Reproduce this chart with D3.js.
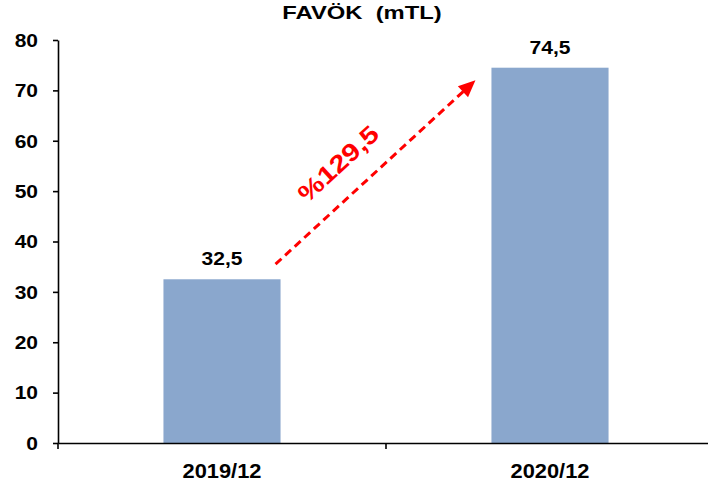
<!DOCTYPE html>
<html><head><meta charset="utf-8">
<script src="https://cdn.jsdelivr.net/npm/d3@7"></script>
<style>body{margin:0;background:#fff}svg{display:block}text{font-family:"Liberation Sans",Arial,sans-serif;font-weight:bold}</style>
</head><body>
<svg id="c" width="708" height="486"></svg>
<script>
const categories = ["2019/12", "2020/12"];
const values = [32.5, 74.5];
const valueLabels = ["32,5", "74,5"];
const yTicks = [0, 10, 20, 30, 40, 50, 60, 70, 80];
const title = "FAVÖK  (mTL)";
const growthLabel = "%129,5";

const svg = d3.select("#c");
const x = d3.scaleBand().domain(categories).range([58, 714]).paddingInner(0.643).paddingOuter(0.3215);
const y = d3.scaleLinear().domain([0, 80]).range([443, 40]);
const SX = 1.2;

svg.append("text").attr("transform", `translate(362,19) scale(1.3,1)`).attr("text-anchor", "middle")
  .style("white-space", "pre").attr("font-size", 18.3).text(title);

svg.selectAll("rect.bar").data(values).join("rect").attr("class", "bar")
  .attr("x", (d, i) => x(categories[i])).attr("width", x.bandwidth())
  .attr("y", d => y(d)).attr("height", d => y(0) - y(d)).attr("fill", "#8AA7CD");

svg.selectAll("text.val").data(values).join("text").attr("class", "val")
  .attr("transform", (d, i) => `translate(${x(categories[i]) + x.bandwidth() / 2},${y(d) - 14}) scale(1.17,1)`)
  .attr("text-anchor", "middle").attr("font-size", 18).text((d, i) => valueLabels[i]);

// y axis
const ya = svg.append("g").attr("transform", "translate(58,0)")
  .call(d3.axisLeft(y).tickValues(yTicks).tickSize(5).tickSizeOuter(0));
ya.select(".domain").attr("stroke", "#000").attr("stroke-width", 1.6);
ya.selectAll(".tick line").attr("stroke", "#000").attr("stroke-width", 1.6);
ya.selectAll(".tick text").attr("x", 0).attr("dy", "0.36em").attr("transform", `translate(-20,0) scale(${SX},1)`)
  .attr("font-size", 17.5).attr("font-family", "Liberation Sans, Arial").attr("font-weight", "bold").attr("fill", "#000");

// x axis
const xa = svg.append("g").attr("transform", "translate(0,443)")
  .call(d3.axisBottom(x).tickSize(0));
xa.select(".domain").attr("stroke", "#000").attr("stroke-width", 1.6);
xa.selectAll(".tick text").attr("y", 0).attr("dy", 0).attr("transform", `translate(0,35) scale(1.12,1)`)
  .attr("font-size", 19.5).attr("font-family", "Liberation Sans, Arial").attr("font-weight", "bold").attr("fill", "#000");
const bounds = [x.range()[0], x(categories[1]) - x.step() * x.paddingInner() / 2, x.range()[1]];
xa.selectAll("line.sep").data(bounds).join("line").attr("class", "sep")
  .attr("x1", d => d).attr("x2", d => d).attr("y1", 0).attr("y2", 6)
  .attr("stroke", "#000").attr("stroke-width", 1.6);

// growth arrow
const x0 = x(categories[0]) + x.bandwidth() - 5, y0 = y(values[0] + 3);
const x1 = x(categories[1]) - 16, y1 = y(values[1] - 2.5);
const a = Math.atan2(y1 - y0, x1 - x0);
const L = 17, W = 7.5;
const bx = x1 - L * Math.cos(a), by = y1 - L * Math.sin(a);
svg.append("line").attr("x1", x0).attr("y1", y0).attr("x2", bx + 2 * Math.cos(a)).attr("y2", by + 2 * Math.sin(a))
  .attr("stroke", "#FF0000").attr("stroke-width", 3).attr("stroke-dasharray", "8,5");
svg.append("path").attr("fill", "#FF0000")
  .attr("d", `M${x1},${y1} L${bx + W * Math.sin(a)},${by - W * Math.cos(a)} L${bx - W * Math.sin(a)},${by + W * Math.cos(a)} Z`);
const ang = a * 180 / Math.PI;
svg.append("text").attr("transform", `translate(344,170) rotate(${ang}) scale(1.2,1)`)
  .attr("text-anchor", "middle").attr("font-size", 24.5).attr("fill", "#FF0000").text(growthLabel);
</script>
</body></html>
